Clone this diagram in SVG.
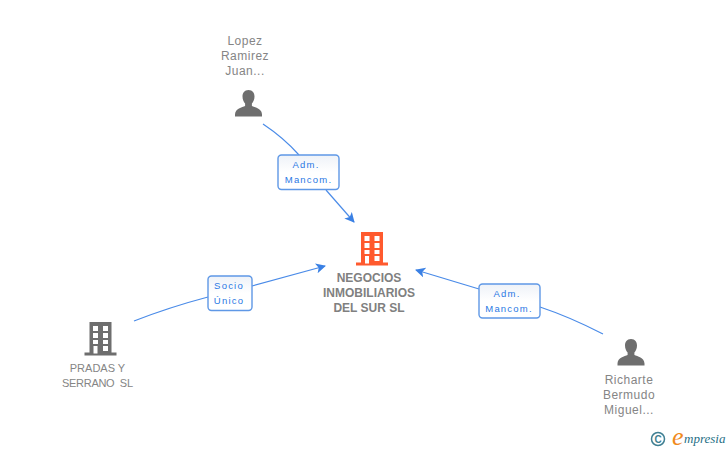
<svg xmlns="http://www.w3.org/2000/svg" width="728" height="450" viewBox="0 0 728 450">
<style>
.t{font-family:"Liberation Sans",Arial,sans-serif;font-size:12px;fill:#858585;text-anchor:middle;letter-spacing:0.5px}
.u{font-family:"Liberation Sans",Arial,sans-serif;font-size:11px;fill:#858585;text-anchor:middle}
.b{font-family:"Liberation Sans",Arial,sans-serif;font-size:12px;font-weight:bold;fill:#808080;text-anchor:middle}
.l{font-family:"Liberation Sans",Arial,sans-serif;font-size:9.5px;fill:#2a78e4;text-anchor:middle;letter-spacing:1.2px}
.c{fill:none;stroke:#4a8be8;stroke-width:1.2}
.box{fill:url(#g);stroke:#5f98e6;stroke-width:1.4}
.w{fill:#fff}
</style>
<defs>
<linearGradient id="g" x1="0" y1="0" x2="0" y2="1"><stop offset="0" stop-color="#eef2f8"/><stop offset="0.5" stop-color="#fff"/><stop offset="1" stop-color="#fff"/></linearGradient>
<marker id="a" markerWidth="12" markerHeight="12" refX="9" refY="5" orient="auto" markerUnits="userSpaceOnUse"><path d="M0 0L10 5L0 10L2.500 5Z" fill="#3a80e4"/></marker>
<g id="person"><path d="M0 -15c4.200 0 6 3 6 6.500c0 3-1.200 5.500-2.600 7v2.500c3 1.500 9.900 2.500 10.100 8.500v2h-27v-2c0.200-6 7.100-7 10.100-8.500v-2.500c-1.400-1.500-2.600-4-2.600-7c0-3.500 1.800-6.500 6-6.500Z" fill="#6e6e6e"/></g>
<g id="bld"><rect x="-11" y="-17" width="22" height="32"/><rect x="-16" y="13.500" width="32" height="3"/>
<g class="w"><rect x="-7.500" y="-13" width="5" height="5"/><rect x="2.500" y="-13" width="5" height="5"/><rect x="-7.500" y="-6" width="5" height="5"/><rect x="2.500" y="-6" width="5" height="5"/><rect x="-7.500" y="1" width="5" height="4"/><rect x="2.500" y="1" width="5" height="4"/><rect x="-7" y="7" width="4" height="7.500"/><rect x="2.500" y="7" width="5" height="5"/></g></g>
</defs>
<g id="connectors">
<path class="c" d="M263 124Q284 138 299 155"/>
<path class="c" d="M326 190L354 222" marker-end="url(#a)"/>
<path class="c" d="M134 321Q170 307 208 297"/>
<path class="c" d="M252 286L325 266" marker-end="url(#a)"/>
<path class="c" d="M603 334Q570 317 540 307"/>
<path class="c" d="M479 289L416 270" marker-end="url(#a)"/>
</g>
<g id="n-main"><use href="#bld" x="372" y="249" fill="#ff5a2e"/>
<text class="b" x="369" y="282">NEGOCIOS</text><text class="b" x="369" y="297">INMOBILIARIOS</text><text class="b" x="369" y="312">DEL SUR SL</text></g>
<g id="n-lopez"><use href="#person" x="248.500" y="105"/>
<text class="t" x="245" y="45">Lopez</text><text class="t" x="245" y="60">Ramirez</text><text class="t" x="245" y="75">Juan...</text></g>
<g id="n-pradas"><use href="#bld" x="100.500" y="339" fill="#6e6e6e"/>
<text class="u" x="97.500" y="372">PRADAS Y</text><text class="u" x="97.500" y="387" textLength="71">SERRANO &#160;SL</text></g>
<g id="n-richarte"><use href="#person" x="631" y="354"/>
<text class="t" x="629" y="384">Richarte</text><text class="t" x="629" y="399">Bermudo</text><text class="t" x="629" y="414">Miguel...</text></g>
<g id="e-lopez"><rect class="box" x="278" y="155" width="61" height="34.500" rx="3.500"/><text class="l" x="306" y="168">Adm.</text><text class="l" x="308.500" y="183">Mancom.</text></g>
<g id="e-pradas"><rect class="box" x="208" y="276" width="44" height="34.500" rx="3.500"/><text class="l" x="229" y="289">Socio</text><text class="l" x="229" y="304">Único</text></g>
<g id="e-richarte"><rect class="box" x="479" y="284" width="61" height="34" rx="3.500"/><text class="l" x="507" y="297">Adm.</text><text class="l" x="509" y="312">Mancom.</text></g>
<g id="logo"><circle cx="658" cy="439" r="6.500" fill="none" stroke="#3f7f92" stroke-width="1.500"/><text x="658" y="442.500" font-family="Liberation Sans,sans-serif" font-size="10" font-weight="bold" fill="#3f7f92" text-anchor="middle">C</text>
<text x="672" y="445" font-family="Liberation Serif,serif" font-style="italic" font-size="26" fill="#f08a1d">e</text>
<text x="684" y="443" font-family="Liberation Serif,serif" font-style="italic" font-size="13" fill="#1f6f86">mpresia</text></g>
</svg>
